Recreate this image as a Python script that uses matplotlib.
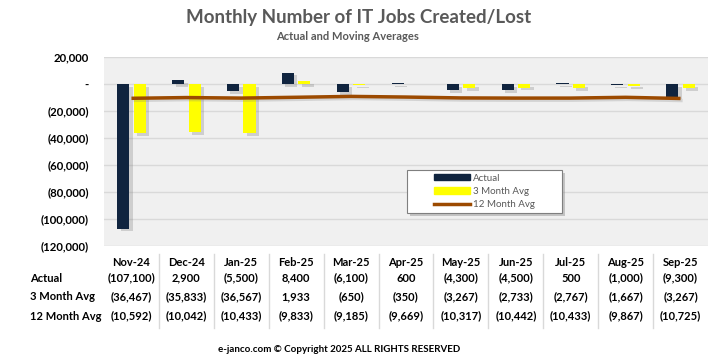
import matplotlib
matplotlib.use("Agg")
import matplotlib.pyplot as plt
import matplotlib.patheffects as pe
from matplotlib.transforms import blended_transform_factory
from matplotlib.ticker import FuncFormatter
from matplotlib.lines import Line2D
from matplotlib.patches import Patch, Rectangle
import numpy as np

# data
months = ["Nov-24", "Dec-24", "Jan-25", "Feb-25", "Mar-25", "Apr-25",
          "May-25", "Jun-25", "Jul-25", "Aug-25", "Sep-25"]
actual = [-107100, 2900, -5500, 8400, -6100, 600, -4300, -4500, 500, -1000, -9300]
avg3 = [-36467, -35833, -36567, 1933, -650, -350, -3267, -2733, -2767, -1667, -3267]
avg12 = [-10592, -10042, -10433, -9833, -9185, -9669, -10317, -10442, -10433, -9867, -10725]

NAVY = "#10243f"
YELLOW = "#ffff00"
BROWN = "#9c4a00"
TXT = "#595959"

plt.rcParams["font.family"] = ["Lato", "DejaVu Sans"]


def fmt(v):
    v = int(round(v))
    if v == 0:
        return "-"
    if v < 0:
        return f"({-v:,})"
    return f"{v:,}"


fig = plt.figure(figsize=(7.17, 3.59), dpi=100)
ax = fig.add_axes([104 / 717, 1 - 246 / 359, 604 / 717, 189 / 359])
ax.set_facecolor("#f0f0f0")

x = np.arange(len(months))
bar_shadow = [pe.SimplePatchShadow(offset=(2.5, -2), shadow_rgbFace="#808080", alpha=0.3), pe.Normal()]
line_shadow = [pe.SimpleLineShadow(offset=(1.5, -1.5), shadow_color="#808080", alpha=0.25), pe.Normal()]

b1 = ax.bar(x - 0.15, actual, width=0.22, color=NAVY, zorder=3)
b2 = ax.bar(x + 0.15, avg3, width=0.22, color=YELLOW, zorder=3)
for r in list(b1) + list(b2):
    r.set_path_effects(bar_shadow)
ln, = ax.plot(x, avg12, color=BROWN, lw=2.5, zorder=4, solid_capstyle="butt")
ln.set_path_effects(line_shadow)

ax.set_xlim(-0.5, len(months) - 0.5)
ax.set_ylim(-120000, 20000)
ax.set_yticks(np.arange(-120000, 20001, 20000))
ax.yaxis.set_major_formatter(FuncFormatter(lambda v, p: fmt(v)))
ax.tick_params(axis="y", length=0, pad=11, labelsize=8.2, labelcolor="black")
for t in ax.get_yticklabels():
    t.set_fontweight("bold")
ax.set_xticks([])
ax.grid(axis="y", color="#d9d9d9", lw=1, zorder=0)
for s in ax.spines.values():
    s.set_visible(False)

# legend: box drawn by hand, entries centred inside it
def px2ax(px, py):
    return (px - 104) / 604, (246 - py) / 189

x0, y0 = px2ax(407, 213)
x1, y1 = px2ax(562, 170)
box = Rectangle((x0, y0), x1 - x0, y1 - y0, transform=ax.transAxes, facecolor="white",
                edgecolor="#7f7f7f", lw=0.8, zorder=6)
box.set_path_effects([pe.SimplePatchShadow(offset=(2.5, -2.5), shadow_rgbFace="#808080", alpha=0.4),
                      pe.Normal()])
ax.add_patch(box)
handles = [Patch(color=NAVY), Patch(color=YELLOW), Line2D([], [], color=BROWN, lw=2.5)]
leg = ax.legend(handles, ["Actual", "3 Month Avg", "12 Month Avg"],
                loc="center", bbox_to_anchor=((x0 + x1) / 2, (y0 + y1) / 2),
                fontsize=7, frameon=False, handlelength=3.7, handleheight=0.6,
                labelspacing=0.45, handletextpad=0.3, borderpad=0)
leg.set_zorder(7)
for t in leg.get_texts():
    t.set_color(TXT)

# data table below the plot
tr = blended_transform_factory(ax.transData, fig.transFigure)
rows = [("Actual", actual, 278), ("3 Month Avg", avg3, 297), ("12 Month Avg", avg12, 316)]
for i, m in enumerate(months):
    ax.text(i, 1 - 262 / 359, m, transform=tr, ha="center", va="center",
            fontsize=8, fontweight="bold", color="black")
for label, vals, yp in rows:
    fig.text(30 / 717, 1 - yp / 359, label, ha="left", va="center",
             fontsize=8, fontweight="bold", color="black")
    for i, v in enumerate(vals):
        ax.text(i, 1 - yp / 359, fmt(v), transform=tr, ha="center", va="center",
                fontsize=8, fontweight="bold", color="black")
for i in range(len(months) - 1):
    ax.plot([i + 0.5, i + 0.5], [1 - 254 / 359, 1 - 328 / 359], transform=tr,
            color="#d9d9d9", lw=1, clip_on=False)

fig.text(359 / 717, 1 - 17 / 359, "Monthly Number of IT Jobs Created/Lost", ha="center", va="center",
         fontsize=13.5, fontweight="bold", color=TXT)
fig.text(348 / 717, 1 - 37 / 359, "Actual and Moving Averages", ha="center", va="center",
         fontsize=8, fontweight="bold", color=TXT)
fig.text(339 / 717, 1 - 349 / 359, "e-janco.com \u00a9 Copyright 2025 ALL RIGHTS RESERVED",
         ha="center", va="center", fontsize=7, fontweight="bold", color="black")

fig.savefig("out.png", dpi=100)
